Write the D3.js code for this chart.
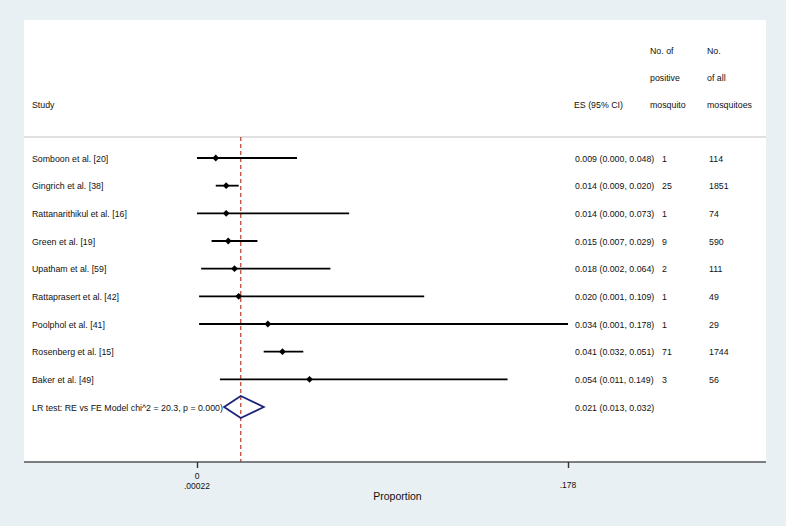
<!DOCTYPE html>
<html><head><meta charset="utf-8">
<script src="https://cdn.jsdelivr.net/npm/d3@7"></script>
<style>
html,body{margin:0;padding:0;background:#e8f0f4;}
text{font-family:"Liberation Sans",Arial,Helvetica,sans-serif;fill:#111;}
</style></head>
<body>
<svg id="c" width="786" height="526"></svg>
<script>
const studies = ["Somboon et al. [20]","Gingrich et al. [38]","Rattanarithikul et al. [16]","Green et al. [19]","Upatham et al. [59]","Rattaprasert et al. [42]","Poolphol et al. [41]","Rosenberg et al. [15]","Baker et al. [49]"];
const es = [0.009,0.014,0.014,0.015,0.018,0.020,0.034,0.041,0.054];
const lo = [0.000,0.009,0.000,0.007,0.002,0.001,0.001,0.032,0.011];
const hi = [0.048,0.020,0.073,0.029,0.064,0.109,0.178,0.051,0.149];
const positives = [1,25,1,9,2,1,1,71,3];
const totals = [114,1851,74,590,111,49,29,1744,56];
const pooledLabel = "LR test: RE vs FE Model chi^2 = 20.3, p = 0.000)";
const pooled = {es:0.021, lo:0.013, hi:0.032};
const tickValues = [0, 0.178];
const tickLabels = [["0",".00022"],[".178"]];

const svg = d3.select("#c");
svg.append("rect").attr("x",0).attr("y",0).attr("width",786).attr("height",526).attr("fill","#e8f0f4");
svg.append("rect").attr("x",24).attr("y",20).attr("width",742).attr("height",442).attr("fill","#fff");

const x = d3.scaleLinear().domain([0,0.178]).range([197,568]);
const rows = studies.concat([pooledLabel]);
const y = d3.scalePoint().domain(rows).range([158,407]);

const fs = 8.8;
// header
const hdr = svg.append("g").style("font-size",fs+"px");
hdr.append("text").attr("x",32).attr("y",107.5).text("Study");
hdr.append("text").attr("x",574).attr("y",107.5).text("ES (95% CI)");
[["No. of",53.5],["positive",80.5],["mosquito",107.5]].forEach(d=>hdr.append("text").attr("x",650).attr("y",d[1]).text(d[0]));
[["No.",53.5],["of all",80.5],["mosquitoes",107.5]].forEach(d=>hdr.append("text").attr("x",707).attr("y",d[1]).text(d[0]));
svg.append("line").attr("x1",24).attr("x2",766).attr("y1",137).attr("y2",137).attr("stroke","#c4c4c4").attr("stroke-width",1.2);

// reference line
svg.append("line").attr("x1",x(pooled.es)).attr("x2",x(pooled.es)).attr("y1",137).attr("y2",462)
  .attr("stroke","#c0392b").attr("stroke-width",1.2).attr("stroke-dasharray","4,3");

// CI lines
const g = svg.append("g");
studies.forEach((s,i)=>{
  const yy = y(s);
  g.append("line").attr("x1",x(lo[i])).attr("x2",x(hi[i])).attr("y1",yy).attr("y2",yy).attr("stroke","#000").attr("stroke-width",1.8);
  const cx = x(es[i]), r=3.4;
  g.append("path").attr("d",`M${cx-r},${yy}L${cx},${yy-r}L${cx+r},${yy}L${cx},${yy+r}Z`).attr("fill","#000");
  const t = svg.append("g").style("font-size",fs+"px");
  t.append("text").attr("x",575).attr("y",yy+3.5).text(`${es[i].toFixed(3)} (${lo[i].toFixed(3)}, ${hi[i].toFixed(3)})`);
  t.append("text").attr("x",662).attr("y",yy+3.5).text(positives[i]);
  t.append("text").attr("x",709).attr("y",yy+3.5).text(totals[i]);
  svg.append("text").attr("x",32).attr("y",yy+3.5).style("font-size",fs+"px").text(s);
});
// pooled
const py = y(pooledLabel);
svg.append("path").attr("d",`M${x(pooled.lo)},${py}L${x(pooled.es)},${py-11}L${x(pooled.hi)},${py}L${x(pooled.es)},${py+11}Z`)
  .attr("fill","none").attr("stroke","#1b2278").attr("stroke-width",1.8);
svg.append("text").attr("x",32).attr("y",py+3.5).style("font-size",fs+"px").text(pooledLabel);
svg.append("text").attr("x",575).attr("y",py+3.5).style("font-size",fs+"px")
  .text(`${pooled.es.toFixed(3)} (${pooled.lo.toFixed(3)}, ${pooled.hi.toFixed(3)})`);

// axis
svg.append("line").attr("x1",24).attr("x2",766).attr("y1",462).attr("y2",462).attr("stroke","#555").attr("stroke-width",1.4);
const ax = d3.axisBottom(x).tickValues(tickValues).tickSize(6).tickFormat("");
const axg = svg.append("g").attr("transform","translate(0,462)").call(ax);
axg.select(".domain").remove();
axg.selectAll(".tick line").attr("stroke","#333").attr("stroke-width",1.4);
tickValues.forEach((v,i)=>{
  tickLabels[i].forEach((l,j)=>{
    const yy = tickLabels[i].length>1 ? 479+j*9.5 : 488;
    svg.append("text").attr("x",x(v)).attr("y",yy).attr("text-anchor","middle").style("font-size","8.5px").text(l);
  });
});
svg.append("text").attr("x",(x(0)+x(0.178))/2+15).attr("y",500).attr("text-anchor","middle").style("font-size","10.5px").text("Proportion");
</script>
</body></html>
